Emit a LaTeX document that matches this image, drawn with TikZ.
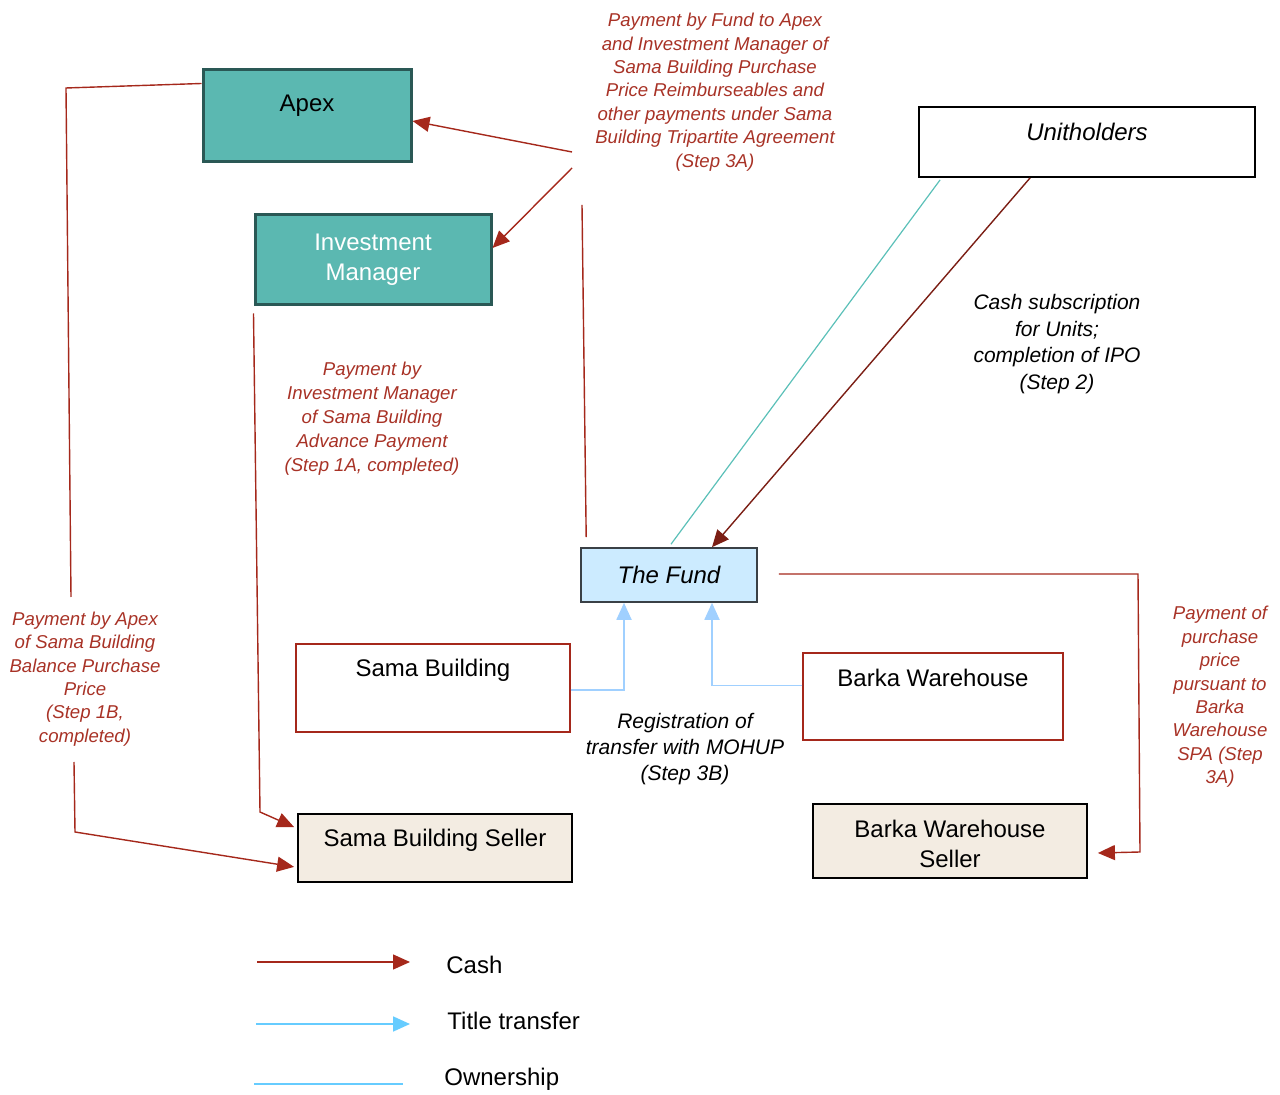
\documentclass[tikz,border=0pt]{standalone}
\usepackage{fontspec}
\setmainfont{Liberation Sans}
\usepackage{tikz}
\usetikzlibrary{arrows.meta,positioning,calc}
\definecolor{tealfill}{HTML}{5BB8B1}
\definecolor{tealline}{HTML}{2A5855}
\definecolor{fundfill}{HTML}{CCEBFF}
\definecolor{fundline}{HTML}{3A4046}
\definecolor{sellerfill}{HTML}{F3ECE2}
\definecolor{cashred}{HTML}{A5281B}
\definecolor{subsred}{HTML}{7B1E14}
\definecolor{labelred}{HTML}{A83226}
\definecolor{titleblue}{HTML}{A0D0FF}
\definecolor{legendblue}{HTML}{66CCFF}
\definecolor{ownteal}{HTML}{5BC0B8}

\begin{document}
\begin{tikzpicture}[x=0.5pt,y=-0.5pt,
  tealbox/.style={draw=tealline, fill=tealfill, line width=1.5pt},
  redbox/.style={draw=cashred, fill=white, line width=0.7pt},
  sellerbox/.style={draw=black, fill=sellerfill, line width=0.9pt, align=center, font=\fontsize{12}{15}\selectfont},
  boxtext/.style={inner sep=0pt, font=\fontsize{12}{15}\selectfont},
  itbox/.style={inner sep=0pt, font=\fontsize{12}{15}\selectfont\itshape},
  redlbl/.style={text=labelred, align=center, font=\fontsize{9.3}{11.7}\selectfont\itshape},
  blklbl/.style={align=center, font=\fontsize{10.5}{13.2}\selectfont\itshape},
  cash/.style={draw=cashred, line width=0.7pt},
  subs/.style={draw=subsred, line width=0.7pt},
  title/.style={draw=titleblue, line width=0.9pt},
  owner/.style={draw=ownteal, line width=0.6pt},
  >={Triangle[length=8.5pt, width=7.5pt]}]
\useasboundingbox (0,0) rectangle (1280,1095);

% parties
\node[tealbox, minimum width=104pt, minimum height=46pt] (apex) at (307,116) {};
\node[boxtext] (apext) at (307,106) {Apex};
\node[tealbox, minimum width=118pt, minimum height=45pt, align=center, text=white, font=\fontsize{12}{15}\selectfont] (invmgr) at (373,260) {Investment\\Manager};
\node[draw=black, line width=0.9pt, minimum width=168pt, minimum height=35pt] (unith) at (1087,142) {};
\node[itbox] (unitht) at (1087,132) {Unitholders};
\node[draw=fundline, fill=fundfill, line width=0.8pt, minimum width=88pt, minimum height=27pt, font=\fontsize{12}{15}\selectfont\itshape] (fund) at (669,575) {The Fund};

% properties
\node[redbox, minimum width=137pt, minimum height=44pt] (sama) at (433,688) {};
\node[boxtext] (samat) at (433,670) {Sama Building};
\node[redbox, minimum width=130pt, minimum height=43.5pt] (barka) at (933,696.5) {};
\node[boxtext] (barkat) at (933,678) {Barka Warehouse};

% sellers
\node[sellerbox, minimum width=137pt, minimum height=34pt] (samaseller) at (435,848) {};
\node[boxtext] (samasellert) at (435,840) {Sama Building Seller};
\node[sellerbox, minimum width=137pt, minimum height=37pt] (barkaseller) at (950,841) {};
\node[boxtext, align=center] (barkasellert) at (950,844) {Barka Warehouse\\Seller};

% labels
\node[redlbl] (lblfund) at (715,92) {Payment by Fund to Apex\\and Investment Manager of\\Sama Building Purchase\\Price Reimburseables and\\other payments under Sama\\Building Tripartite Agreement\\(Step 3A)};
\node[redlbl, font=\fontsize{9.3}{12}\selectfont\itshape] (lbladv) at (372,419) {Payment by\\Investment Manager\\of Sama Building\\Advance Payment\\(Step 1A, completed)};
\node[redlbl] (lblbal) at (85,679) {Payment by Apex\\of Sama Building\\Balance Purchase\\Price\\(Step 1B,\\completed)};
\node[redlbl] (lblspa) at (1220,697) {Payment of\\purchase\\price\\pursuant to\\Barka\\Warehouse\\SPA (Step\\3A)};
\node[blklbl] (lblcash) at (1057,344) {Cash subscription\\for Units;\\completion of IPO\\(Step 2)};
\node[blklbl] (lblreg) at (685,749) {Registration of\\transfer with MOHUP\\(Step 3B)};

% free ends
\coordinate (balin) at (71,597);
\coordinate (balout) at (74,762);
\coordinate (payapex) at (572,152);
\coordinate (payinv) at (572,168);
\coordinate (payin) at (582,205);

% cash flows
\draw[cash] ($(apex.north west)+(0,15)$) -- (66,88) -- (balin);
\draw[cash, ->] (balout) -- (75,832) -- ($(samaseller.south west)+(-3,-16)$);
\draw[cash, ->] (payapex) -- ($(apex.east)+(0,5)$);
\draw[cash, ->] (payinv) -- ($(invmgr.east)+(0,-12)$);
\draw[cash] ($(fund.north west)+(6,-10)$) -- (payin);
\draw[cash, ->] ($(invmgr.south west)+(0,7)$) -- (260,812) -- ($(samaseller.north west)+(-3,14)$);
\draw[subs, ->] ($(unith.south west)+(112,0)$) -- ($(fund.north)+(43,0)$);
\draw[cash, ->] ($(fund.east)+(21,-1)$) -- (1138,574) -- (1140,852) -- ($(barkaseller.east)+(10,12)$);

% ownership and title
\draw[owner] ($(unith.south west)+(22,2)$) -- ($(fund.north)+(2,-3)$);
\draw[title, ->] ($(sama.east)+(0,2)$) -| ($(fund.south)+(-45,0)$);
\draw[title, ->] ($(barka.west)+(0,-11)$) -| ($(fund.south)+(43,0)$);

% legend
\node[boxtext, anchor=west] (lgcash) at (446,965) {Cash};
\node[boxtext, anchor=west] (lgtitle) at (447,1021) {Title transfer};
\node[boxtext, anchor=west] (lgown) at (444,1079) {Ownership};
\draw[cash, ->] (257,962) coordinate (lgc) -- ($(lgcash.west)+(-36,-3)$);
\draw[draw=legendblue, line width=0.9pt, -{Triangle[length=8.5pt, width=7.5pt, fill=legendblue]}] (256,1024) coordinate (lgt) -- ($(lgtitle.west)+(-37,3)$);
\draw[draw=legendblue, line width=0.6pt] (254,1084) coordinate (lgo) -- ($(lgown.west)+(-41,5)$);
\end{tikzpicture}
\end{document}
